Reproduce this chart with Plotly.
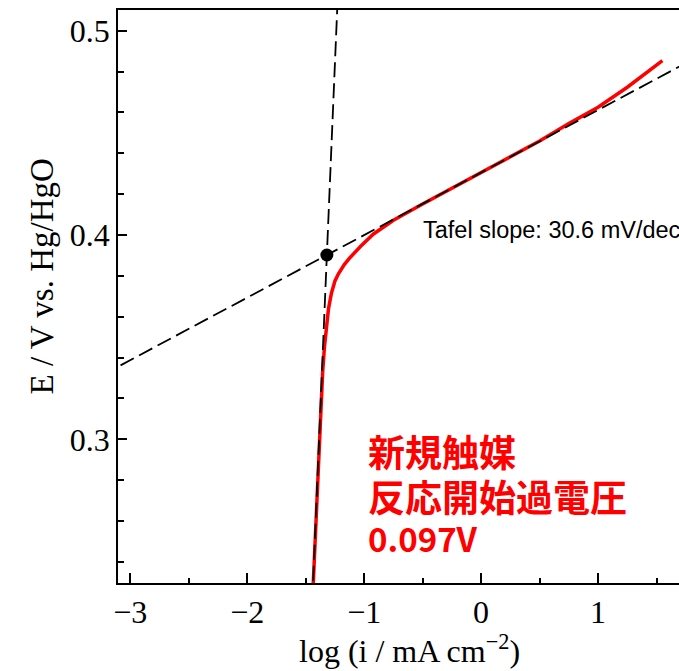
import plotly.graph_objects as go

# Polarisation curve (log current density vs. potential)
log_i = [-1.438, -1.42, -1.40, -1.385, -1.37, -1.355, -1.34, -1.325, -1.305,
         -1.28, -1.25, -1.22, -1.17, -1.12, -1.03, -0.92, -0.75, -0.5, -0.25,
         0.0, 0.25, 0.5, 0.75, 1.0, 1.25, 1.55]
potential = [0.226, 0.25, 0.275, 0.298, 0.318, 0.333, 0.345, 0.355, 0.364,
             0.3715, 0.3775, 0.381, 0.3855, 0.389, 0.3945, 0.4005, 0.4072,
             0.4152, 0.4229, 0.4306, 0.4383, 0.446, 0.4545, 0.4625, 0.4723,
             0.4853]

# Tafel fit and baseline fit, crossing at the onset point
tafel_slope_mv = 30.6          # mV/dec
baseline_slope = 1.36          # V/dec
onset_log_i = -1.319
onset_E = 0.3902

tafel_x = [-3.4, 1.9]
tafel_y = [onset_E + tafel_slope_mv / 1000 * (x - onset_log_i) for x in tafel_x]
base_y = [0.20, 0.53]
base_x = [onset_log_i + (e - onset_E) / baseline_slope for e in base_y]

x_ticks = [-3, -2, -1, 0, 1]
y_ticks = [0.3, 0.4, 0.5]

fig = go.Figure()
fig.add_trace(go.Scatter(x=log_i, y=potential, mode="lines",
                         line=dict(color="#ff0000", width=3.5), hoverinfo="skip"))
fig.add_trace(go.Scatter(x=tafel_x, y=tafel_y, mode="lines",
                         line=dict(color="black", width=1.8, dash="15px,6px")))
fig.add_trace(go.Scatter(x=base_x, y=base_y, mode="lines",
                         line=dict(color="black", width=1.8, dash="15px,6px")))
fig.add_trace(go.Scatter(x=[onset_log_i], y=[onset_E], mode="markers",
                         marker=dict(color="black", size=13)))

serif = "Liberation Serif, Times New Roman, serif"
cjk = "Noto Sans CJK JP"

fig.update_layout(
    width=679, height=671,
    margin=dict(l=118, r=0, t=10, b=88),
    plot_bgcolor="white", paper_bgcolor="white",
    showlegend=False,
    font=dict(family=serif, color="black"),
    xaxis=dict(
        range=[-3.105, 1.692], tickvals=x_ticks, ticks="inside", ticklen=10,
        tickwidth=1.5, tickcolor="black",
        minor=dict(dtick=0.5, tick0=-3, ticks="inside", ticklen=5,
                   tickwidth=1.5, tickcolor="black"),
        showline=True, linecolor="black", linewidth=1.8, mirror=True,
        showgrid=False, zeroline=False,
        tickfont=dict(family=serif, size=32),
    ),
    yaxis=dict(
        range=[0.2297, 0.5101], tickvals=y_ticks, ticks="inside", ticklen=9,
        tickwidth=1.5, tickcolor="black", tickformat=".1f",
        minor=dict(dtick=0.02, tick0=0.2, ticks="inside", ticklen=6,
                   tickwidth=1.5, tickcolor="black"),
        showline=True, linecolor="black", linewidth=1.8,
        showgrid=False, zeroline=False,
        tickfont=dict(family=serif, size=32),
    ),
    annotations=[
        dict(text="E / V vs. Hg/HgO", xref="paper", yref="paper",
             x=-0.1355, y=0.535, xanchor="center", yanchor="middle",
             textangle=-90, showarrow=False,
             font=dict(family=serif, size=33)),
        dict(text="log (i / mA cm<sup>\u22122</sup>)", xref="paper", yref="paper",
             x=0.52, y=-0.116, xanchor="center", yanchor="middle",
             showarrow=False,
             font=dict(family=serif, size=32)),
        dict(text="Tafel slope: 30.6 mV/dec", xref="x", yref="y",
             x=-0.515, y=0.4025, xanchor="left", yanchor="middle",
             showarrow=False,
             font=dict(family="Liberation Sans, Arial, sans-serif", size=23.5)),
        dict(text="<b>新規触媒</b>", xref="x", yref="y",
             x=-0.985, y=0.2944, xanchor="left", yanchor="middle",
             showarrow=False,
             font=dict(family=cjk, size=37, color="#ff0000")),
        dict(text="<b>反応開始過電圧</b>", xref="x", yref="y",
             x=-0.985, y=0.2724, xanchor="left", yanchor="middle",
             showarrow=False,
             font=dict(family=cjk, size=37, color="#ff0000")),
        dict(text="<b>0.097V</b>", xref="x", yref="y",
             x=-0.985, y=0.2518, xanchor="left", yanchor="middle",
             showarrow=False,
             font=dict(family=cjk, size=33, color="#ff0000")),
    ],
)

fig.write_html("out.html")
